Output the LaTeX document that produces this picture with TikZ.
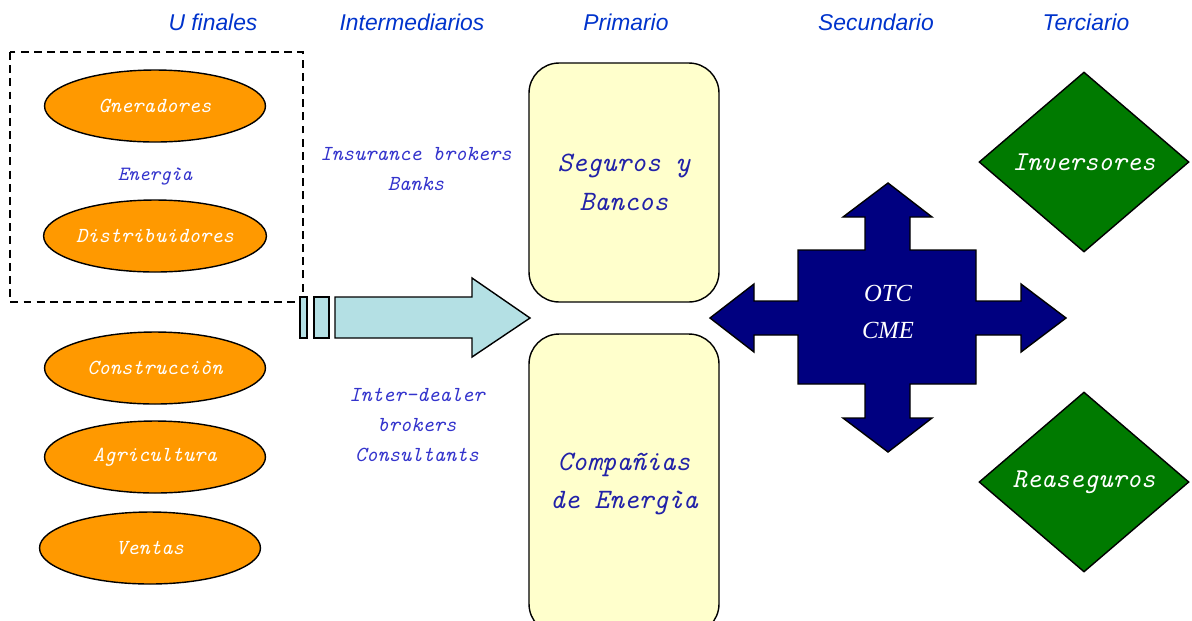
\documentclass[tikz,border=0pt]{standalone}
\usepackage{fontspec}
\newfontfamily\headfont{Liberation Sans}
\newfontfamily\otcfont{Liberation Serif}
\usetikzlibrary{shapes.geometric}

\definecolor{headblue}{HTML}{0033CC}
\definecolor{midblue}{HTML}{3333CC}
\definecolor{boxblue}{HTML}{2222A8}
\definecolor{orangefill}{HTML}{FF9900}
\definecolor{paleyellow}{HTML}{FFFFCC}
\definecolor{paleblue}{HTML}{B4E0E4}
\definecolor{navyfill}{HTML}{000080}
\definecolor{greenfill}{HTML}{007A00}

\begin{document}
\begin{tikzpicture}[x=0.02cm,y=-0.02cm]
		\useasboundingbox (0,0) rectangle (1192,620);

		% column titles
		\begin{scope}[every node/.style={text=headblue,font=\headfont\itshape\fontsize{13}{15}\selectfont}]
			\node (T1) at (213,22) {U finales};
			\node (T2) at (412,22) {Intermediarios};
			\node (T3) at (626,22) {Primario};
			\node (T4) at (876,22) {Secundario};
			\node (T5) at (1086,22) {Terciario};
		\end{scope}

		\draw[line width=0.9pt,dash pattern=on 4.5pt off 3pt] (10,52) rectangle (303,302);

		% final users
		\begin{scope}[every node/.style={ellipse,draw,thick,fill=orangefill,inner sep=0pt,
			minimum width=4.42cm,minimum height=1.44cm,text=white,
			font=\ttfamily\itshape\fontsize{12.2}{14}\selectfont}]
			\node (A) at (155,106) {Gneradores};
			\node (B) at (155,236) {Distribuidores};
			\node (C) at (155,368) {Construcciòn};
			\node (D) at (155,457) {Agricultura};
			\node (E) at (150,548) {Ventas};
		\end{scope}
		\node[text=midblue,font=\ttfamily\itshape\fontsize{11.5}{14}\selectfont] (En) at (155,177) {Energìa};

		% intermediaries
		\begin{scope}[every node/.style={text=midblue,align=center,
			font=\ttfamily\itshape\fontsize{12.2}{17}\selectfont}]
			\node (I1) at (416,169) {Insurance brokers\\Banks};
			\node (I2) at (417,425) {Inter-dealer\\brokers\\Consultants};
		\end{scope}

		% arrow into the primary market
		\begin{scope}[fill=paleblue,draw=black,thick]
			\filldraw (300,297) rectangle (307,338);
			\filldraw (314,297) rectangle (329,338);
			\filldraw (335,297) -- (472,297) -- (472,278) -- (530,318)
				-- (472,357) -- (472,338) -- (335,338) -- cycle;
		\end{scope}

		% primary market
		\begin{scope}[every node/.style={rectangle,rounded corners=0.6cm,draw,thick,
			fill=paleyellow,minimum width=3.8cm,text=boxblue,align=center,
			font=\ttfamily\itshape\fontsize{16}{22}\selectfont}]
			\node[minimum height=4.78cm] (P) at (624,182.5) {Seguros y\\Bancos};
			\node[minimum height=6cm] (Q) at (624,484) {Compañias\\de Energìa};
		\end{scope}

		% secondary market: four-way arrow
		\filldraw[fill=navyfill,draw=black,thick]
			(888,183) -- (932,217) -- (910,217) -- (910,250) -- (976,250) -- (976,301)
			-- (1021,301) -- (1021,284) -- (1066,318) -- (1021,352) -- (1021,335)
			-- (976,335) -- (976,384) -- (910,384) -- (910,418) -- (932,418)
			-- (888,452) -- (843,418) -- (865,418) -- (865,384) -- (798,384)
			-- (798,335) -- (754,335) -- (754,352) -- (710,318) -- (754,284)
			-- (754,301) -- (798,301) -- (798,250) -- (865,250) -- (865,217)
			-- (843,217) -- cycle;
		\node[text=white,align=center,font=\otcfont\itshape\fontsize{14}{21.5}\selectfont] (X) at (888,312) {OTC\\CME};

		% tertiary market
		\begin{scope}[every node/.style={diamond,draw,thick,fill=greenfill,inner sep=0pt,
			minimum width=4.2cm,minimum height=3.6cm,text=white,
			font=\ttfamily\itshape\fontsize{15.5}{18}\selectfont}]
			\node (R) at (1084,162) {Inversores};
			\node (S) at (1084,482) {Reaseguros};
		\end{scope}
	\end{tikzpicture}
\end{document}
